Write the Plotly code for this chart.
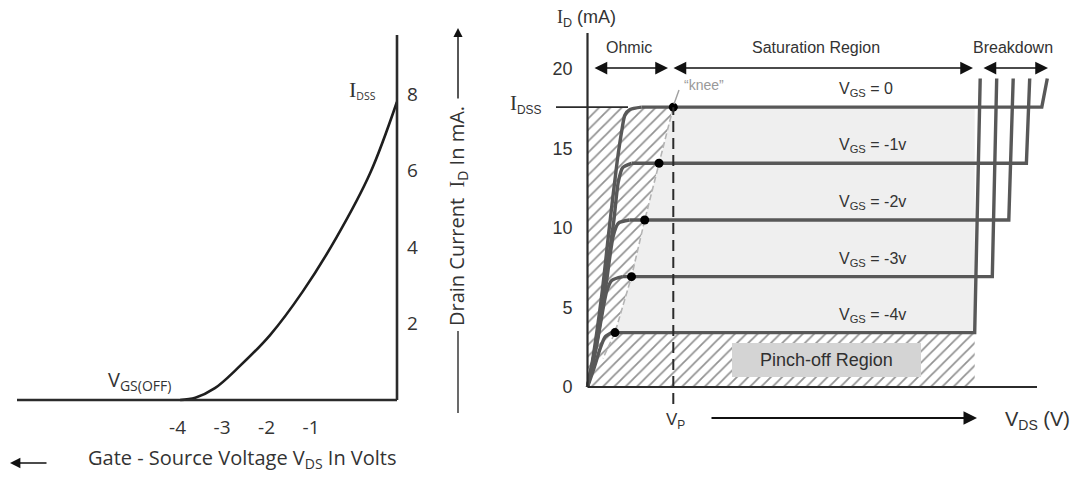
import plotly.graph_objects as go

W, H = 1074, 479

# ================= Left panel: transfer characteristic =================
vgs_tick_vals = [-4, -3, -2, -1]
vgs_tick_text = ["-4", "-3", "-2", "-1"]
id_tick_vals = [2, 4, 6, 8]
id_tick_text = ["2", "4", "6", "8"]
transfer_vgs = [-3.94, -3.6, -3.16, -2.66, -1.92, -1.18, -0.42, 0.33, 0.93]
transfer_id = [0.0, 0.06, 0.31, 0.82, 1.7, 2.85, 4.27, 5.94, 7.8]

# ================= Right panel: output characteristics =================
out_tick_vals = [0, 5, 10, 15, 20]
out_tick_text = ["0", "5", "10", "15", "20"]
vgs_labels = ["0", "-1v", "-2v", "-3v", "-4v"]
sat_id = [17.6, 14.07, 10.5, 6.94, 3.42]
knee_vds = [3.9, 3.25, 2.6, 2.0, 1.25]
bd_vds_bottom = [20.65, 19.95, 19.15, 18.4, 17.6]
bd_vds_top = [20.9, 20.1, 19.35, 18.6, 17.85]
bd_id_top = 19.4
ohmic_vds = [
    [0, 0.22, 0.65, 0.99, 1.35, 1.58, 1.7, 1.93, 2.46],
    [0, 0.5, 0.9, 1.2, 1.4, 1.6, 2.0],
    [0, 0.45, 0.85, 1.17, 1.4, 1.9],
    [0, 0.4, 0.87, 1.1, 1.6],
    [0, 0.3, 0.57, 0.8, 1.1],
]
ohmic_id = [
    [0, 1.6, 5.8, 10.0, 14.2, 16.3, 17.1, 17.45, 17.6],
    [0, 3.5, 7.5, 10.5, 12.9, 13.8, 14.07],
    [0, 3.0, 6.5, 9.5, 10.3, 10.5],
    [0, 2.5, 6.0, 6.7, 6.94],
    [0, 1.2, 2.4, 3.15, 3.42],
]
knee_tail_vds, knee_tail_id = 0.7, 1.8
vp = 3.9
idss = sat_id[0]

# ---- pixel calibration (layout) ----
L_X0PX, L_XUNIT = 177.5, 44.5    # px of Vgs=-4, px per volt
L_Y0PX, L_YUNIT = 400.0, 38.2
R_X0PX, R_XUNIT = 587.5, 22.0
R_Y0PX, R_YUNIT = 387.0, 15.9
SPLIT = 537

def lx(p): return -4 + (p - L_X0PX) / L_XUNIT
def ly(p): return (L_Y0PX - p) / L_YUNIT
def rx(p): return (p - R_X0PX) / R_XUNIT
def ry(p): return (R_Y0PX - p) / R_YUNIT
def P(px, py): return px / W, 1 - py / H

LEFT_AXIS_X = lx(397)
LINE = "#2b2b2b"
CURVE = "#585858"
SANS_L = "Open Sans"
SANS_R = "Liberation Sans"
SERIF = "Liberation Serif"

fig = go.Figure()

# ---------- left ----------
fig.add_trace(go.Scatter(x=transfer_vgs, y=transfer_id, mode="lines",
                         line=dict(color="#1e1e1e", width=2.6, shape="spline", smoothing=1.0),
                         xaxis="x", yaxis="y", hoverinfo="skip", showlegend=False))

# ---------- right ----------
hx = [0, 0] + knee_vds + [bd_vds_bottom[-1], bd_vds_bottom[-1]]
hy = [0, idss] + sat_id + [sat_id[-1], 0]
fig.add_trace(go.Scatter(x=hx, y=hy, mode="lines", fill="toself", line=dict(width=0),
                         fillcolor="white",
                         fillpattern=dict(shape="/", size=8, solidity=0.22, fgcolor="#262626", bgcolor="white"),
                         xaxis="x2", yaxis="y2", hoverinfo="skip", showlegend=False))
gx = knee_vds + [bd_vds_bottom[-1], bd_vds_bottom[-1]]
gy = sat_id + [sat_id[-1], idss]
fig.add_trace(go.Scatter(x=gx, y=gy, mode="lines", fill="toself", line=dict(width=0),
                         fillcolor="#efefef", xaxis="x2", yaxis="y2", hoverinfo="skip", showlegend=False))
# knee locus
fig.add_trace(go.Scatter(x=knee_vds + [knee_tail_vds], y=sat_id + [knee_tail_id], mode="lines",
                         line=dict(color="#b4b4b4", width=1.6, dash="6px,3px"),
                         xaxis="x2", yaxis="y2", hoverinfo="skip", showlegend=False))
for i in range(len(sat_id)):
    fig.add_trace(go.Scatter(x=ohmic_vds[i], y=ohmic_id[i], mode="lines",
                             line=dict(color=CURVE, width=3.4, shape="spline", smoothing=0.7),
                             xaxis="x2", yaxis="y2", hoverinfo="skip", showlegend=False))
    fig.add_trace(go.Scatter(x=[ohmic_vds[i][-1], bd_vds_bottom[i], bd_vds_top[i]],
                             y=[sat_id[i], sat_id[i], bd_id_top], mode="lines",
                             line=dict(color=CURVE, width=3.4),
                             xaxis="x2", yaxis="y2", hoverinfo="skip", showlegend=False))
fig.add_trace(go.Scatter(x=knee_vds, y=sat_id, mode="markers",
                         marker=dict(color="black", size=9),
                         xaxis="x2", yaxis="y2", hoverinfo="skip", showlegend=False))

shapes = []
# left axes
shapes.append(dict(type="line", xref="x", yref="y", x0=lx(17), x1=LEFT_AXIS_X, y0=0, y1=0,
                   line=dict(color=LINE, width=2.6)))
shapes.append(dict(type="line", xref="x", yref="y", x0=LEFT_AXIS_X, x1=LEFT_AXIS_X, y0=0, y1=ly(35),
                   line=dict(color=LINE, width=2.6)))
# right axes
shapes.append(dict(type="line", xref="x2", yref="y2", x0=0, x1=rx(1037), y0=0, y1=0,
                   line=dict(color=LINE, width=2.2)))
shapes.append(dict(type="line", xref="x2", yref="y2", x0=0, x1=0, y0=0, y1=ry(33),
                   line=dict(color=LINE, width=2.2)))
# IDSS reference line
shapes.append(dict(type="line", xref="x2", yref="y2", x0=rx(556), x1=rx(628), y0=idss, y1=idss,
                   line=dict(color=LINE, width=1.6)))
# Vp dashed line
shapes.append(dict(type="line", xref="x2", yref="y2", x0=vp, x1=vp, y0=ry(404), y1=idss,
                   line=dict(color=LINE, width=2, dash="11px,6px")))
# knee pointer
shapes.append(dict(type="line", xref="x2", yref="y2", x0=rx(679), x1=rx(674), y0=ry(90), y1=ry(104),
                   line=dict(color="#a0a0a0", width=1.4)))
# pinch-off box
shapes.append(dict(type="rect", xref="x2", yref="y2", x0=rx(732), x1=rx(921), y0=ry(343), y1=ry(377),
                   fillcolor="#d4d4d4", line=dict(width=0), layer="above"))
# left vertical axis-title line (bottom part)
x0p, y0p = P(458, 331)
x1p, y1p = P(458, 413)
shapes.append(dict(type="line", xref="paper", yref="paper", x0=x0p, x1=x1p, y0=y0p, y1=y1p,
                   line=dict(color=LINE, width=1.4)))

ann = []
def text(px, py, s, size, family, color="#333", xanchor="center", yanchor="middle", angle=0):
    x, y = P(px, py)
    ann.append(dict(x=x, y=y, xref="paper", yref="paper", text=s, showarrow=False,
                    font=dict(size=size, family=family, color=color),
                    xanchor=xanchor, yanchor=yanchor, textangle=angle))

def arrow(tx, ty, hx_, hy_, both=False, width=1.5, size=1.7, head=2):
    x, y = P(hx_, hy_)
    ann.append(dict(x=x, y=y, xref="paper", yref="paper", ax=tx - hx_, ay=ty - hy_,
                    text="", showarrow=True, arrowhead=head, startarrowhead=head,
                    arrowside="end+start" if both else "end", arrowsize=size, startarrowsize=size,
                    arrowwidth=width, arrowcolor="#111", standoff=0, startstandoff=0))

serifI = '<span style="font-family:%s">I</span>' % SERIF
bigSerifI = '<span style="font-family:%s;font-size:21px">I</span>' % SERIF

# left texts
text(362, 90, '<span style="font-family:%s;font-size:22px">I</span><sub>DSS</sub>' % SERIF, 15, SANS_L)
text(106, 380, "V<sub>GS(OFF)</sub>", 20, SANS_L, xanchor="left")
text(86, 458, "Gate - Source Voltage V<sub>DS</sub> In Volts", 20, SANS_L, xanchor="left")
text(458, 216, "Drain Current  " + serifI + "<sub>D</sub> In mA.", 20, SANS_L, angle=-90)
arrow(48, 463, 10, 463, width=1.6, size=1.3)
arrow(458, 100, 458, 28, width=1.4, size=1.3)

# right texts
text(555, 18, serifI + "<sub>D</sub> (mA)", 18, SANS_R, xanchor="left")
text(628.5, 47, "Ohmic", 16, SANS_R)
text(816, 47, "Saturation Region", 16, SANS_R)
text(1012.5, 47, "Breakdown", 16, SANS_R)
text(703.5, 85, '\u201cknee\u201d', 14, SANS_R, color="#999")
text(544, 104, bigSerifI + "<sub>DSS</sub>", 17, SANS_R, xanchor="right")
text(826, 360, "Pinch-off Region", 18, SANS_R, color="#303030")
text(675, 421, "V<sub>P</sub>", 17, SANS_R)
text(1003, 420, "V<sub>DS</sub> (V)", 20, SANS_R, xanchor="left")
arrow(593, 68, 668, 68, both=True)
arrow(672, 68, 973, 68, both=True)
arrow(982, 68, 1048, 68, both=True)
arrow(710, 418, 977, 418, width=1.8, size=1.5)

for lab, lev in zip(vgs_labels, sat_id):
    ann.append(dict(x=rx(837), y=lev, xref="x2", yref="y2", yshift=17.5,
                    text="V<sub>GS</sub> = " + lab, showarrow=False,
                    font=dict(size=16, family=SANS_R, color="#333"),
                    xanchor="left", yanchor="middle"))

fig.update_layout(
    width=W, height=H, margin=dict(l=0, r=0, t=0, b=0),
    paper_bgcolor="white", plot_bgcolor="white", showlegend=False,
    shapes=shapes, annotations=ann,
    xaxis=dict(domain=[0, SPLIT / W], range=[lx(0), lx(SPLIT)], showgrid=False, zeroline=False,
               showline=False, ticks="", tickvals=vgs_tick_vals, ticktext=vgs_tick_text,
               anchor="free", position=1 - 403 / H, ticklabelstandoff=11,
               tickfont=dict(size=19, family=SANS_L, color="#333"), fixedrange=True),
    yaxis=dict(domain=[0, 1], range=[ly(H), ly(0)], showgrid=False, zeroline=False,
               showline=False, ticks="", tickvals=id_tick_vals, ticktext=id_tick_text,
               anchor="free", position=397 / W, side="right", ticklabelstandoff=9,
               tickfont=dict(size=19, family=SANS_L, color="#333"), fixedrange=True),
    xaxis2=dict(domain=[SPLIT / W, 1], range=[rx(SPLIT), rx(W)], visible=False, fixedrange=True),
    yaxis2=dict(domain=[0, 1], range=[ry(H), ry(0)], showgrid=False, zeroline=False,
                showline=False, ticks="", tickvals=out_tick_vals, ticktext=out_tick_text,
                anchor="free", position=R_X0PX / W, side="left", ticklabelstandoff=15,
                tickfont=dict(size=18, family=SANS_R, color="#333"), fixedrange=True),
)

fig.write_html("out.html", config={"displayModeBar": False},
               post_script="document.body.style.margin='0';document.body.style.overflow='hidden';")
